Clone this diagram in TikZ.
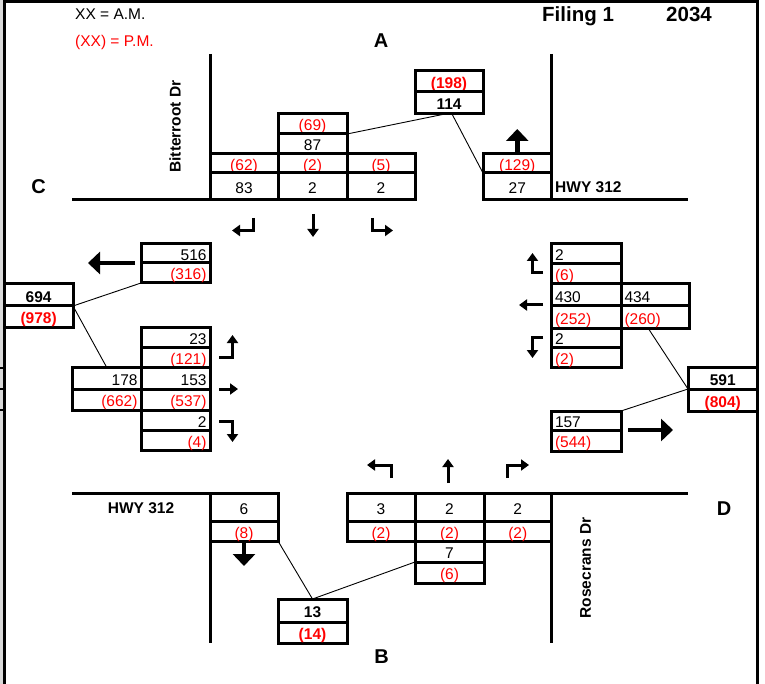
\documentclass[tikz,border=0pt]{standalone}
\usepackage{fontspec}
\setmainfont{Liberation Sans}
\usetikzlibrary{arrows.meta,calc}
\definecolor{pmred}{RGB}{255,0,0}
\definecolor{stripgray}{RGB}{217,217,217}
\newcommand\fsn{\fontsize{15.5}{18}\selectfont}
\newcommand\fsb{\fontsize{15.5}{18}\selectfont\bfseries}
\newcommand\fsl{\fontsize{20}{24}\selectfont\bfseries}
\newcommand\fst{\fontsize{20.5}{24}\selectfont\bfseries}
\newcommand\cel[7][]{%
  \pgfmathsetmacro\celW{#5-#3}\pgfmathsetmacro\celH{#6-#4}\pgfmathsetmacro\celT{#5-#3-7}%
  \pgfmathsetmacro\celX{(#3+#5)/2}\pgfmathsetmacro\celY{(#4+#6)/2}%
  \node[cell, minimum width=\celW pt, minimum height=\celH pt, text width=\celT pt, #1] (#2) at (\celX,\celY) {#7};}
\tikzset{
  cell/.style={draw, line width=3pt, inner xsep=3.5pt, inner ysep=0pt, outer sep=0pt,
    text height=14pt, text depth=0pt, align=center, font=\fsn},
  am/.style={text=black},
  pm/.style={text=pmred},
  outc/.style={font=\fsb},
  road/.style={line width=3pt},
  link/.style={line width=0.9pt},
  bigarrow/.style={line width=4.5pt, -{Triangle[length=12pt,width=22pt]}},
  turnarrow/.style={line width=3pt, -{Triangle[length=8pt,width=11pt]}},
  lbl/.style={font=\fsb, inner sep=0pt},
  leg/.style={font=\fsn, inner sep=0pt},
}
\begin{document}
\begin{tikzpicture}[x=1pt,y=-1pt]
\useasboundingbox (0,0) rectangle (765,684);
% frame
\fill[stripgray] (0,0) rectangle (2.7,684);
\draw[line width=3.3pt] (4.35,0) -- (4.35,684);
\draw[line width=3pt] (3,1.5) -- (759,1.5);
\draw[line width=3pt] (757.5,0) -- (757.5,684);
\foreach \yy in {368,389,410} \draw[line width=2.7pt] (0,\yy) -- (5,\yy);
% roads
\draw[road] (72,200) -- (415,200);
\draw[road] (483,200) -- (688,200);
\draw[road] (210,54) -- (210,200);
\draw[road] (551.5,54) -- (551.5,200);
\draw[road] (72,493) -- (278,493);
\draw[road] (347,493) -- (688,493);
\draw[road] (210,493) -- (210,643);
\draw[road] (551.5,493) -- (551.5,643);
% north approach (A)
\cel[pm]{Tlp}{210}{154}{278}{173}{(62)}
\cel[am]{Tla}{210}{173}{278}{200}{83}
\cel[pm]{Ttp}{278}{154}{347}{173}{(2)}
\cel[am]{Tta}{278}{173}{347}{200}{2}
\cel[pm]{Trp}{347}{154}{415}{173}{(5)}
\cel[am]{Tra}{347}{173}{415}{200}{2}
\cel[pm]{Tip}{278}{114}{347}{134}{(69)}
\cel[am]{Tia}{278}{134}{347}{154}{87}
\cel[pm,outc]{Top}{415}{71}{483}{92}{(198)}
\cel[am,outc]{Toa}{415}{92}{483}{114}{114}
\cel[pm]{Txp}{483}{154}{551.5}{173}{(129)}
\cel[am]{Txa}{483}{173}{551.5}{200}{27}
% west approach (C)
\cel[am,align=right]{Cea}{141}{244}{210}{263}{516}
\cel[pm,align=right]{Cep}{141}{263}{210}{283}{(316)}
\cel[am,outc]{Cta}{4.35}{284}{73}{306}{694}
\cel[pm,outc]{Ctp}{4.35}{306}{73}{327}{(978)}
\cel[am,align=right]{Cla}{141}{327}{210}{347}{23}
\cel[pm,align=right]{Clp}{141}{347}{210}{367}{(121)}
\cel[am,align=right]{Cia}{72}{367}{141}{389}{178}
\cel[pm,align=right]{Cip}{72}{389}{141}{410}{(662)}
\cel[am,align=right]{Cha}{141}{367}{210}{389}{153}
\cel[pm,align=right]{Chp}{141}{389}{210}{410}{(537)}
\cel[am,align=right]{Cra}{141}{410}{210}{430}{2}
\cel[pm,align=right]{Crp}{141}{430}{210}{450}{(4)}
% east approach (D)
\cel[am,align=left]{Dla}{551.5}{244}{621}{264}{2}
\cel[pm,align=left]{Dlp}{551.5}{264}{621}{284}{(6)}
\cel[am,align=left]{Dha}{551.5}{284}{621}{306}{430}
\cel[pm,align=left]{Dhp}{551.5}{306}{621}{328}{(252)}
\cel[am,align=left]{Dia}{621}{284}{689}{306}{434}
\cel[pm,align=left]{Dip}{621}{306}{689}{328}{(260)}
\cel[am,align=left]{Dra}{551.5}{328}{621}{347}{2}
\cel[pm,align=left]{Drp}{551.5}{347}{621}{367}{(2)}
\cel[am,outc]{Dta}{688}{367}{757.5}{389}{591}
\cel[pm,outc]{Dtp}{688}{389}{757.5}{411}{(804)}
\cel[am,align=left]{Dea}{551.5}{411}{621}{430}{157}
\cel[pm,align=left]{Dep}{551.5}{430}{621}{451}{(544)}
% south approach (B)
\cel[am]{Bea}{210}{493}{278}{521}{6}
\cel[pm]{Bep}{210}{521}{278}{541}{(8)}
\cel[am,outc]{Bta}{278}{599}{347}{622}{13}
\cel[pm,outc]{Btp}{278}{622}{347}{643}{(14)}
\cel[am]{Bla}{347}{493}{415}{521}{3}
\cel[pm]{Blp}{347}{521}{415}{541}{(2)}
\cel[am]{Bha}{415}{493}{484}{521}{2}
\cel[pm]{Bhp}{415}{521}{484}{541}{(2)}
\cel[am]{Bra}{484}{493}{551.5}{521}{2}
\cel[pm]{Brp}{484}{521}{551.5}{541}{(2)}
\cel[am]{Bia}{415}{541}{484}{562}{7}
\cel[pm]{Bip}{415}{562}{484}{583}{(6)}
% connectors
\draw[link] (Tia.north east) -- ([xshift=-4pt]Toa.south);
\draw[link] ([xshift=3pt]Toa.south) -- (Txp.south west);
\draw[link] (Cta.south east) -- (Cep.south west);
\draw[link] (Cta.south east) -- (Cia.north);
\draw[link] ([xshift=-7pt]Dip.south) -- (Dta.south west);
\draw[link] (Dea.north east) -- (Dta.south west);
\draw[link] (Bep.south east) -- (Bta.north);
\draw[link] (Bta.north) -- (Bip.north west);
% big arrows
\draw[bigarrow] (Txp.north) -- (517.25,129);
\draw[bigarrow] (135,263) -- (88,263);
\draw[bigarrow] (628,430) -- (673,430);
\draw[bigarrow] (Bep.south) -- (244,566);
% turn arrows north approach
\draw[turnarrow] (253,218) |- (232,230.5);
\draw[turnarrow] (313,214) -- (313,237);
\draw[turnarrow] (372,218) |- (393,230.5);
% west approach
\draw[turnarrow] (219,357) -| (232.5,335);
\draw[turnarrow] (219,389) -- (238,389);
\draw[turnarrow] (219,421) -| (232.5,442);
% east approach
\draw[turnarrow] (543,273) -| (532.5,253);
\draw[turnarrow] (543,305) -- (519,305);
\draw[turnarrow] (543,337) -| (532.5,358);
% south approach
\draw[turnarrow] (391,478) |- (367,465);
\draw[turnarrow] (448,483) -- (448,459);
\draw[turnarrow] (507,478) |- (529,465);
% labels
\node[leg, anchor=base west] (legam) at (75,20) {XX = A.M.};
\node[leg, anchor=base west, text=pmred] (legpm) at (75,46.5) {(XX) = P.M.};
\node[lbl, font=\fsl, anchor=base] (lA) at (381,48) {A};
\node[lbl, font=\fsl, anchor=base] (lB) at (381.5,663) {B};
\node[lbl, font=\fsl, anchor=base] (lC) at (38.5,194) {C};
\node[lbl, font=\fsl, anchor=base] (lD) at (724,515) {D};
\node[lbl, font=\fst, anchor=base west] (filing) at (542,22) {Filing 1};
\node[lbl, font=\fst, anchor=base west] (year) at (666,22) {2034};
\node[lbl, anchor=base west] (hwyE) at (555,193) {HWY 312};
\node[lbl, anchor=base] (hwyW) at (141,513) {HWY 312};
\node[lbl, rotate=90] (bitter) at (175,126.5) {Bitterroot Dr};
\node[lbl, rotate=90] (rose) at (585.5,568) {Rosecrans Dr};
\end{tikzpicture}
\end{document}
